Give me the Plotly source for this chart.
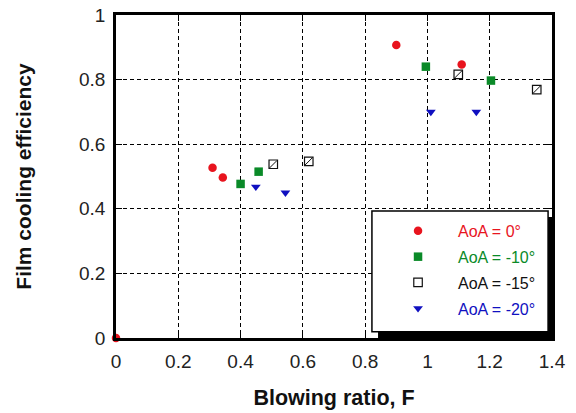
import plotly.graph_objects as go

# Data
aoa0_x = [0.0, 0.31, 0.343, 0.90, 1.11]
aoa0_y = [0.0, 0.527, 0.497, 0.907, 0.847]
aoa10_x = [0.40, 0.458, 0.995, 1.204]
aoa10_y = [0.477, 0.515, 0.840, 0.797]
aoa15_x = [0.505, 0.619, 1.099, 1.351]
aoa15_y = [0.538, 0.547, 0.816, 0.769]
aoa20_x = [0.449, 0.544, 1.011, 1.157]
aoa20_y = [0.468, 0.450, 0.700, 0.700]

x_ticks = [0, 0.2, 0.4, 0.6, 0.8, 1.0, 1.2, 1.4]
x_labels = ["0", "0.2", "0.4", "0.6", "0.8", "1", "1.2", "1.4"]
y_ticks = [0, 0.2, 0.4, 0.6, 0.8, 1.0]
y_labels = ["0", "0.2", "0.4", "0.6", "0.8", "1"]

RED = "#e8141e"
GREEN = "#0a8a28"
BLACK = "#111111"
BLUE = "#1010c0"

FONT = "Liberation Sans, Arial, sans-serif"

fig = go.Figure()
fig.add_trace(go.Scatter(
    x=aoa0_x, y=aoa0_y, mode="markers", cliponaxis=False,
    name=f'<span style="color:{RED}">AoA = 0°</span>', legendgroup="a",
    marker=dict(symbol="circle", size=8.5, color=RED)))
fig.add_trace(go.Scatter(
    x=aoa10_x, y=aoa10_y, mode="markers", cliponaxis=False,
    name=f'<span style="color:{GREEN}">AoA = -10°</span>', legendgroup="b",
    marker=dict(symbol="square", size=8.5, color=GREEN)))
fig.add_trace(go.Scatter(
    x=aoa15_x, y=aoa15_y, mode="markers", cliponaxis=False,
    name=f'<span style="color:{BLACK}">AoA = -15°</span>', legendgroup="c",
    marker=dict(symbol="square-open", size=8.5, color=BLACK,
                line=dict(width=1.2, color=BLACK))))
fig.add_trace(go.Scatter(
    x=aoa15_x, y=aoa15_y, mode="markers", cliponaxis=False,
    showlegend=False, legendgroup="c", hoverinfo="skip",
    marker=dict(symbol="line-ne", size=7.5, color=BLACK,
                line=dict(width=1, color=BLACK))))
fig.add_trace(go.Scatter(
    x=aoa20_x, y=aoa20_y, mode="markers", cliponaxis=False,
    name=f'<span style="color:{BLUE}">AoA = -20°</span>', legendgroup="d",
    marker=dict(symbol="triangle-down", size=8.5, color=BLUE)))

axis_common = dict(
    showline=True, linewidth=2.5, linecolor="black", mirror="ticks",
    ticks="inside", ticklen=6, tickwidth=1, tickcolor="black",
    showgrid=True, gridcolor="black", gridwidth=1, griddash="4px,3px",
    zeroline=False, ticklabelstandoff=4, automargin=False,
    tickfont=dict(family=FONT, size=19, color="#222222"),
)

fig.update_xaxes(range=[0, 1.4], tickvals=x_ticks, ticktext=x_labels,
                 title=dict(text="<b>Blowing ratio, F</b>", standoff=20,
                            font=dict(family=FONT, size=21.5, color="#111111")),
                 **axis_common)
fig.update_yaxes(range=[0, 1.0], tickvals=y_ticks, ticktext=y_labels,
                 title=dict(text="<b>Film cooling efficiency</b>", standoff=42,
                            font=dict(family=FONT, size=21, color="#111111")),
                 **axis_common)

# legend box with drop shadow
fig.add_shape(type="rect", xref="paper", yref="paper", layer="above",
              x0=0.601, x1=1.002, y0=0.0, y1=0.375,
              fillcolor="black", line=dict(width=0))
fig.add_shape(type="rect", xref="paper", yref="paper", layer="above",
              x0=0.587, x1=0.991, y0=0.019, y1=0.393,
              fillcolor="white", line=dict(width=1.5, color="black"))

fig.update_layout(
    width=576, height=413,
    margin=dict(l=116, r=24, t=15, b=75),
    paper_bgcolor="white", plot_bgcolor="white",
    showlegend=True,
    legend=dict(x=0.601, y=0.384, xanchor="left", yanchor="top",
                bgcolor="rgba(0,0,0,0)", borderwidth=0,
                tracegroupgap=2, traceorder="grouped",
                itemwidth=70,
                font=dict(family=FONT, size=16, color="black")),
)

fig.write_html("out.html")
